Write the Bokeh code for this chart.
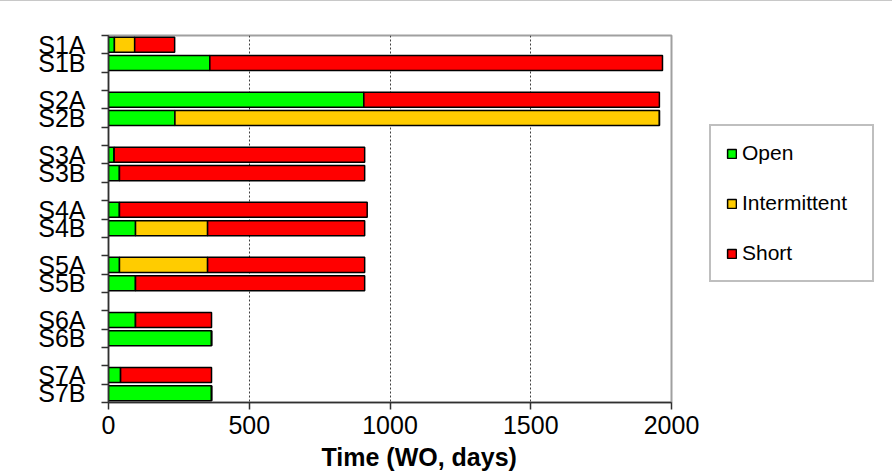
from bokeh.plotting import figure
from bokeh.models import ColumnDataSource, Range1d, FixedTicker, Legend, LegendItem, Title
from bokeh.embed import file_html
from bokeh.resources import INLINE

# Sample labels (pairs A/B per sample group, top to bottom)
labels = ["S1A", "S1B", "S2A", "S2B", "S3A", "S3B", "S4A", "S4B",
          "S5A", "S5B", "S6A", "S6B", "S7A", "S7B"]
# Days spent in each state (stacked left to right)
open_days = [21, 360, 907, 236, 20, 39, 39, 96, 39, 96, 96, 366, 43, 366]
intermittent_days = [72, 0, 0, 1721, 0, 0, 0, 256, 313, 0, 0, 0, 0, 0]
short_days = [142, 1608, 1050, 0, 890, 871, 880, 558, 558, 814, 270, 0, 323, 0]
states = ["Open", "Intermittent", "Short"]
state_colors = ["#00ff00", "#ffcc00", "#ff0000"]
x_ticks = [0, 500, 1000, 1500, 2000]

# Each group uses three slots: A, B and a blank spacer
y_pos = []
for i in range(len(labels)):
    g, k = divmod(i, 2)
    y_pos.append(3 * g + k + 0.5)
n_slots = 3 * (len(labels) // 2) - 1

source = ColumnDataSource(dict(
    y=y_pos, label=labels,
    Open=open_days, Intermittent=intermittent_days, Short=short_days,
))

FONT = "Liberation Sans"

p = figure(
    frame_width=563, frame_height=367,
    min_border_left=108, min_border_right=220,
    min_border_top=34, min_border_bottom=0,
    x_range=Range1d(0, 2000), y_range=Range1d(n_slots, 0),
    output_backend="svg", toolbar_location=None,
)
p.styles = {"border-top": "1px solid #c8c8c8", "border-right": "1px solid #c8c8c8"}

renderers = p.hbar_stack(
    states, y="y", height=0.82, source=source,
    fill_color=state_colors, line_color="black", line_width=1.5,
)

# Axes
p.xaxis.ticker = FixedTicker(ticks=x_ticks)
p.xaxis.major_label_text_font = FONT
p.xaxis.major_label_text_font_size = "25px"
p.xaxis.major_label_text_color = "black"
p.xaxis.major_label_standoff = 6
p.xaxis.major_tick_out = 7
p.xaxis.major_tick_in = 0
p.xaxis.minor_tick_out = 0
p.xaxis.minor_tick_in = 0

p.yaxis.ticker = FixedTicker(ticks=y_pos, minor_ticks=list(range(n_slots + 1)))
p.yaxis.major_label_overrides = {y: lab for y, lab in zip(y_pos, labels)}
p.yaxis.major_label_text_font = FONT
p.yaxis.major_label_text_font_size = "25px"
p.yaxis.major_label_text_color = "black"
p.yaxis.major_label_standoff = 16
p.yaxis.major_tick_out = 0
p.yaxis.major_tick_in = 0
p.yaxis.minor_tick_out = 7
p.yaxis.minor_tick_in = 0

for ax in (p.xaxis, p.yaxis):
    ax.axis_line_color = "#303030"
    ax.axis_line_width = 1.5
    ax.major_tick_line_color = "#303030"
    ax.minor_tick_line_color = "#303030"
    ax.major_tick_line_width = 1.5
    ax.minor_tick_line_width = 1.5

# x-axis title, set a little right of centre
xtitle = Title(text="Time (WO, days)", align="left", offset=213, standoff=9,
               text_font=FONT, text_font_size="25px", text_font_style="bold",
               text_color="black")
p.add_layout(xtitle, "below")

# Grid: dotted verticals only
p.ygrid.grid_line_color = None
p.xgrid.grid_line_color = "#404040"
p.xgrid.grid_line_dash = "2 2"
p.xgrid.grid_line_width = 1

p.outline_line_color = "#a0a0a0"
p.outline_line_width = 2

# Legend outside the frame, on the right
legend = Legend(
    items=[LegendItem(label=s, renderers=[r]) for s, r in zip(states, renderers)],
    location=(38, 120),
    label_text_font=FONT, label_text_font_size="21px", label_text_color="black",
    glyph_width=11, glyph_height=11, label_standoff=5, label_width=115,
    padding=15, spacing=26, margin=0,
    border_line_color="#808080", border_line_width=2,
    background_fill_color="white",
)
p.add_layout(legend, "right")

open("out.html", "w").write(file_html(p, INLINE))
